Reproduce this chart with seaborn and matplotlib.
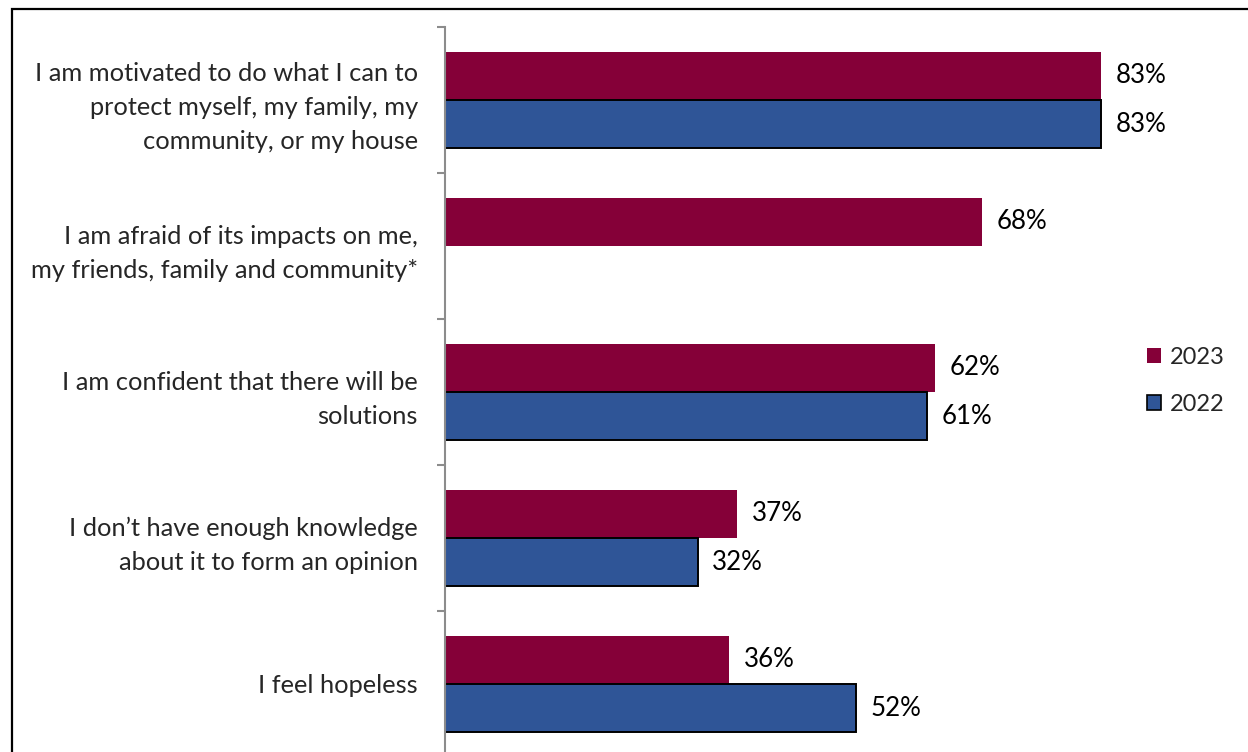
import matplotlib
matplotlib.use("Agg")
import matplotlib.pyplot as plt
import matplotlib.patches as mpatches
import seaborn as sns
import pandas as pd

# Survey statements (wrapped as displayed) and share agreeing, by year
statements = [
    "I am motivated to do what I can to\nprotect myself, my family, my\ncommunity, or my house",
    "I am afraid of its impacts on me,\nmy friends, family and community*",
    "I am confident that there will be\nsolutions",
    "I don\u2019t have enough knowledge\nabout it to form an opinion",
    "I feel hopeless",
]
years = ["2023", "2022"]
values_2023 = [83, 68, 62, 37, 36]
values_2022 = [83, None, 61, 32, 52]
year_colors = {"2023": "#850038", "2022": "#2F5597"}

rows = []
for stmt, v23, v22 in zip(statements, values_2023, values_2022):
    rows.append({"statement": stmt, "year": "2023", "pct": v23})
    if v22 is not None:
        rows.append({"statement": stmt, "year": "2022", "pct": v22})
df = pd.DataFrame(rows)

sns.set_style("white")
plt.rcParams["font.family"] = ["Lato", "DejaVu Sans"]

fs = 18.3
fig = plt.figure(figsize=(12.48, 7.52), dpi=100)
ax = fig.add_axes([445 / 1248, 1 - 757 / 752, 790 / 1248, 730 / 752])

sns.barplot(
    data=df, y="statement", x="pct", hue="year",
    order=statements, hue_order=years, palette=year_colors,
    orient="h", width=0.66, errorbar=None, saturation=1,
    linewidth=0, ax=ax,
)

# 2022 bars carry a black outline
for cont, yr in zip(ax.containers, years):
    for bar in cont:
        if yr == "2022":
            bar.set_edgecolor("black")
            bar.set_linewidth(1.4)
    labels = ax.bar_label(cont, fmt="%.0f%%", padding=10.5, fontsize=18.6, color="black")
    for t in labels:
        t.set_y(t.get_position()[1] + 0.02)

ax.set_xlim(0, 100)
ax.set_ylim(len(statements) - 0.5, -0.5)
ax.set_xlabel("")
ax.set_ylabel("")
ax.set_xticks([])

ax.set_yticks(range(len(statements)))
ax.set_yticklabels(statements, fontsize=fs, linespacing=1.57, ha="right")
ax.tick_params(axis="y", which="major", length=0, pad=19.5)
ax.set_yticks([i - 0.5 for i in range(len(statements) + 1)], minor=True)
ax.tick_params(axis="y", which="minor", length=6, width=1.5, color="#8C8C8C", left=True)

for side in ["top", "right", "bottom"]:
    ax.spines[side].set_visible(False)
ax.spines["left"].set_color("#8C8C8C")
ax.spines["left"].set_linewidth(1.5)

ax.legend_.remove()
handles = [
    mpatches.Patch(facecolor=year_colors["2023"], edgecolor="none", label="2023"),
    mpatches.Patch(facecolor=year_colors["2022"], edgecolor="black", linewidth=1.2, label="2022"),
]
fig.legend(
    handles=handles, loc="center left", bbox_to_anchor=(1147 / 1248, 1 - 381 / 752),
    frameon=False, fontsize=17, handlelength=0.6, handleheight=0.6,
    handletextpad=0.35, labelspacing=1.1, borderpad=0, borderaxespad=0,
)

# Outer frame around the chart area
frame = mpatches.Rectangle(
    (11.5 / 1248, -0.05), 1.1, 1 - 9 / 752 + 0.05,
    transform=fig.transFigure, fill=False, edgecolor="black",
    linewidth=1.6, clip_on=False,
)
fig.patches.append(frame)

fig.savefig("out.png", dpi=100)
